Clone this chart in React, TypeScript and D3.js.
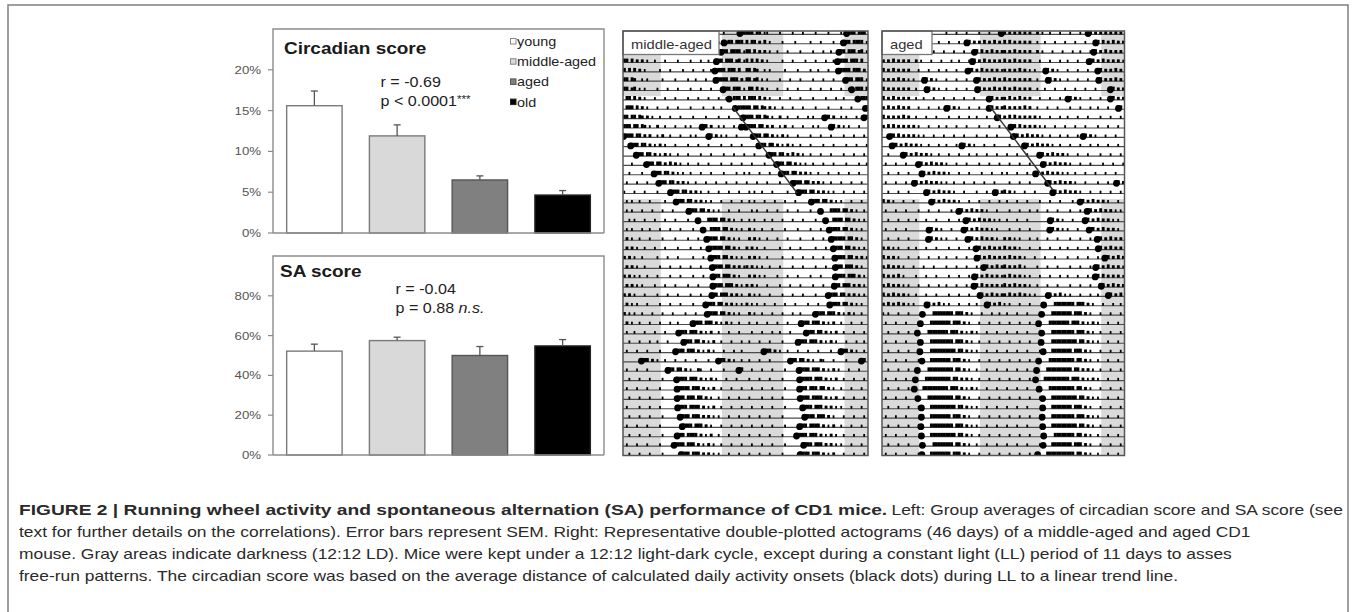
import React, { useLayoutEffect, useRef, useState } from 'react';
import * as d3 from 'd3';

// ---------------- Bar chart data ----------------
const groups = ['young', 'middle-aged', 'aged', 'old'];
const groupFills = ['#ffffff', '#d9d9d9', '#808080', '#000000'];
const groupStrokes = ['#7a7a7a', '#7a7a7a', '#555555', '#222222'];
const circadianMean = [15.6, 11.9, 6.5, 4.65];
const circadianSem = [1.8, 1.35, 0.5, 0.55];
const saMean = [52.2, 57.5, 50.0, 54.8];
const saSem = [3.5, 1.7, 4.5, 3.2];
const circadianTicks = [0, 5, 10, 15, 20];
const saTicks = [0, 20, 40, 60, 80];
const circadianStats = ['r = -0.69', 'p < 0.0001'];
const saStats = ['r = -0.04', 'p = 0.88 '];

// ---------------- Actogram data ----------------
const ldRowBlocks = [[0, 6], [18, 45]];
const darkStart = 19.4;
const darkLength = 12;

const midDots = [
  [22.9], [19.8], [19.2], [18.3], [18.0], [18.2], [19.6], [20.8], [22.0], [23.5],
  [15.5, 23.2], [0.1, 16.8], [1.5], [2.6], [4.6], [6.1], [7.0], [9.3], [10.4], [12.9],
  [14.7], [15.7], [16.4], [16.8], [17.2], [17.5], [17.6], [17.6], [17.4], [16.2],
  [16.5], [13.7], [10.9], [11.9], [10.3], [3.6, 18.7], [8.8, 22.7], [10.5], [10.6], [10.6],
  [10.7], [11.2], [11.6], [10.6], [10.0], [11.4], [10.7],
];
const agedDots = [
  [23.6], [16.8], [18.3], [17.9], [17.0], [8.4, 18.7], [8.9, 18.9], [21.2], [12.8, 21.2], [22.8],
  [], [1.5], [2.0, 15.8], [4.2], [7.2], [7.9], [6.4], [8.8, 22.4], [9.8], [15.2],
  [16.6], [9.3, 16.2], [9.2, 17.0], [18.6], [18.8], [20.1], [18.3], [18.2], [19.4], [8.9, 20.8],
  [8.0], [7.6], [7.0], [7.6], [7.5], [7.9], [7.0], [6.6], [6.4], [7.1],
  [7.8], [7.8], [7.7], [7.8], [8.0], [7.9], [6.8],
];

const midActivity = [
  '000000000000 000000000000 001000100010 000100000333',
  '333033011000 010000100010 000100001000 010323303330',
  '303302030100 001000010000 010001000010 013330333301',
  '330302020100 100010000100 001000100100 333033302301',
  '303030201000 001000100001 000100010010 333303330300',
  '330320010100 000100001000 010010001000 333330333020',
  '330230101000 010001000100 001000100010 001333033301',
  '033030201000 100010001000 010001000100 010010033303',
  '033303020100 010001000100 001000010001 001000010333',
  '330330320201 001000100010 000100001000 010001000003',
  '333033032010 020010001000 101000033020 010100010033',
  '333303302020 010200100010 001010000330 201010001000',
  '000333033020 102010001000 010001000100 001000100010',
  '000003330330 201020100100 010000100010 000100010001',
  '000100000333 033020302010 010001000100 001000100010',
  '001000010001 333033020101 001000100010 000100001001',
  '010001000100 003330330202 010010001000 100010001000',
  '100010001000 010000333303 302020100100 010001000100',
  '010100100010 000010003333 033020201010 001000100010',
  '010100010001 000100010000 033330330201 010001000100',
  '001010001000 100010001000 010001000333 303302010010',
  '010100010010 001000100010 000100100033 330330201010',
  '020100100010 000100001000 010001000333 303302010100',
  '020201001000 100010000100 001000100033 333033020100',
  '202010010000 010001000100 000100010033 330330201010',
  '020201001000 001000100010 001000100003 333033020201',
  '202010100100 010000100010 000100010003 330333020100',
  '020201010000 100010001000 010001000003 333033302010',
  '202010001000 010001000100 001000100033 303330202010',
  '020101000100 001000100010 000100003333 033020201010',
  '201010010001 000100010000 100010000333 303302010100',
  '020100100010 001000100100 000333303330 201020100100',
  '010010001000 100010000333 303330201020 010001000100',
  '001000100010 010001000003 333033020102 001000100010',
  '010001000100 001000003333 033302010201 000100010010',
  '000000033302 010010001000 100010000100 033302010010',
  '010001000100 000003330330 201002100010 000100000330',
  '001000100010 000100000333 303330201020 100010001000',
  '010001000100 001000000333 330333020102 001000100010',
  '001000100010 000100000333 033303302010 010001000100',
  '010000100010 001000000333 303333020102 001000100010',
  '001000100010 000100000033 330333020201 010001000100',
  '010001000100 001000000003 333033302010 001000100010',
  '001000100010 000100000333 033330201020 010001000100',
  '010001000100 001000003333 033302010201 001000100010',
  '001000100010 000100000033 330333020201 010001000100',
  '010001000100 001000000333 303330201020 001000100010',
];
const agedActivity = [
  '000000000000 000000000000 010001000100 001000100023',
  '302020302020 020100100010 001000100330 202030203020',
  '303020202020 010010001000 100010001000 330302030202',
  '202030202020 020100010001 000100100013 302030202020',
  '302030202020 001000100010 010001000033 020302020201',
  '202020302010 100033020100 010001000100 033020203020',
  '302020202020 010003302010 010001000100 033020203020',
  '302030202020 010010001000 100010001000 100000330202',
  '203020302020 001000100010 033020100010 001000330202',
  '302020203020 010001000100 001000100010 010001000330',
  '203030202020 201000100010 010001000100 001000100010',
  '000330302020 201010001000 100010001000 010001000100',
  '000033020302 020100100010 010001033020 100010001000',
  '001000003302 030202010010 001000100010 010001000100',
  '010001000100 003302030202 010001000100 001000100010',
  '001000100010 000330203020 201000100010 000100010001',
  '010001000100 330203020201 010010001000 100010001000',
  '001000100010 000003302030 202010001000 010001003302',
  '302010001000 100000033020 302020100010 001000100010',
  '010001000100 001000100010 000100330203 020201000100',
  '001000100010 010001000100 001000100330 203020201010',
  '010001000100 000000330201 000100003302 030202010100',
  '001000100010 000000330201 010001000033 020302020100',
  '202010100010 010001000100 001000100010 033020302020',
  '302020100010 001000100010 010001000100 033020302020',
  '203020201000 100010001000 010001000100 010033020302',
  '302020301000 010001000100 001000100010 330203020201',
  '203020201010 001000100010 010001000100 330302020201',
  '302030202010 010001000100 001000100010 003302030202',
  '203020302010 100003302030 101000100010 010003302030',
  '101000100010 000100003333 333303330201 000100010010',
  '010001000100 001000033333 333033302010 001000100010',
  '001000100010 000000333333 330333020102 010001000100',
  '010001000100 001000033333 333303330201 001000100010',
  '001000100010 000100033333 333330330201 010001000100',
  '010001000100 001000033333 333033302010 001000100010',
  '001000100010 000000333333 333303302010 010001000100',
  '010001000100 000003333333 333033020201 001000100010',
  '001000100010 000033333333 330333020102 010001000100',
  '010001000100 000000333333 333303302010 001000100010',
  '001000100010 001000033333 333330330201 010001000100',
  '010001000100 000100033333 333033302010 001000100010',
  '001000100010 001000033333 333303330201 010001000100',
  '010001000100 000100033333 333330330201 001000100010',
  '001000100010 000100003333 333303302010 010001000100',
  '010001000100 001000033333 333033302010 001000100010',
  '001000100010 000003333333 333303302010 010001000100',
];
const midTrend = [[7.75, 21.5], [16.95, 34.1]];
const agedTrend = [[7.65, 21.3], [16.6, 33.8]];

const captionBold = 'FIGURE 2 | Running wheel activity and spontaneous alternation (SA) performance of CD1 mice.';
const captionFirstRest = 'Left: Group averages of circadian score and SA score (see';
const captionLines = [
  'text for further details on the correlations). Error bars represent SEM. Right: Representative double-plotted actograms (46 days) of a middle-aged and aged CD1',
  'mouse. Gray areas indicate darkness (12:12 LD). Mice were kept under a 12:12 light-dark cycle, except during a constant light (LL) period of 11 days to asses',
  'free-run patterns. The circadian score was based on the average distance of calculated daily activity onsets (black dots) during LL to a linear trend line.',
];

const FONT = '"Liberation Sans", Arial, Helvetica, sans-serif';
const SX = 1.15;

function T(props: any) {
  const { x, y, anchor = 'start', size, weight = 'normal', fill = '#222', style, children } = props;
  return (
    <text
      transform={`translate(${x},${y}) scale(${SX},1)`}
      textAnchor={anchor}
      fontSize={size}
      fontWeight={weight}
      fill={fill}
      fontFamily={FONT}
      fontStyle={style}
    >
      {children}
    </text>
  );
}

function BarPanel(props: any) {
  const { left, right, top, bottom, yMax, ticks, means, sems, title, titleX, titleY, stats, statsX, statsY, stars, legend } = props;
  const x = d3.scaleBand<string>().domain(groups).range([left, right]).paddingInner(0.33).paddingOuter(0.165);
  const y = d3.scaleLinear().domain([0, yMax]).range([bottom, top]);
  const bw = x.bandwidth();
  return (
    <g>
      <path d={`M${left},${bottom} V${top} H${right} V${bottom}`} fill="none" stroke="#8c8c8c" strokeWidth={1.4} />
      {ticks.map((t: number) => (
        <g key={t}>
          <line x1={left - 5} x2={left} y1={y(t)} y2={y(t)} stroke="#8c8c8c" strokeWidth={1.2} />
          <T x={left - 12} y={y(t) + 4} anchor="end" size={11.5} fill="#555">{`${t}%`}</T>
        </g>
      ))}
      {groups.map((g, i) => {
        const cx = (x(g) as number) + bw / 2;
        const yt = y(means[i]);
        const ye = y(means[i] + sems[i]);
        return (
          <g key={g}>
            <rect x={x(g)} y={yt} width={bw} height={bottom - yt} fill={groupFills[i]} stroke={groupStrokes[i]} strokeWidth={1.4} />
            <line x1={cx} x2={cx} y1={yt} y2={ye} stroke="#555" strokeWidth={1.3} />
            <line x1={cx - 3.5} x2={cx + 3.5} y1={ye} y2={ye} stroke="#555" strokeWidth={1.3} />
          </g>
        );
      })}
      <line x1={left} x2={right} y1={bottom} y2={bottom} stroke="#8c8c8c" strokeWidth={1.4} />
      <T x={titleX} y={titleY} size={16.5} weight="bold" fill="#1a1a1a">{title}</T>
      <T x={statsX} y={statsY} size={14} fill="#222">{stats[0]}</T>
      <T x={statsX} y={statsY + 19} size={14} fill="#222">
        {stats[1]}
        {stars ? <tspan fontSize={10} dy={-3}>{stars}</tspan> : <tspan fontStyle="italic">n.s.</tspan>}
      </T>
      {legend &&
        groups.map((g, i) => {
          const by = 46 + i * 20.2;
          return (
            <g key={g}>
              <rect x={510.5} y={by - 7.5} width={5.5} height={5.5} fill={groupFills[i]} stroke={i < 2 ? '#888' : groupStrokes[i]} strokeWidth={1} />
              <T x={517} y={by} size={12.5} fill="#222">{g}</T>
            </g>
          );
        })}
    </g>
  );
}

function Actogram(props: any) {
  const { x0, x1, label, labelW, dots, activity, trend, id } = props;
  const top = 31;
  const bottom = 455.5;
  const xs = d3.scaleLinear().domain([0, 48]).range([x0, x1]);
  const rs = d3.scaleLinear().domain([0, 45]).range([34.4, 455.5]);
  const rowH = rs(1) - rs(0);
  const binW = xs(0.5) - xs(0);
  const nRows = 46;
  const darkIntervals: number[][] = [];
  for (let k = -1; k <= 2; k++) {
    const s = Math.max(0, darkStart + 24 * k);
    const e = Math.min(48, darkStart + 24 * k + darkLength);
    if (e > s) darkIntervals.push([s, e]);
  }
  const marks: any[] = [];
  const dotEls: any[] = [];
  for (let n = 0; n < nRows; n++) {
    const base = rs(n);
    for (let k = 0; k < 2; k++) {
      const day = n + k;
      const s = (activity[day] || '').replace(/\s/g, '');
      for (let b = 0; b < Math.min(48, s.length); b++) {
        const v = +s[b];
        if (!v) continue;
        const hx = xs(k * 24 + b / 2);
        const h = v === 1 ? 2.8 : v === 2 ? 3.1 : 3.9;
        const w = v === 1 ? 1.8 : binW + 0.3;
        marks.push(<rect key={`${n}-${k}-${b}`} x={v === 1 ? hx + binW / 2 - 0.9 : hx} y={base - h} width={w} height={h} fill="#000" />);
      }
      (dots[day] || []).forEach((h: number, j: number) => {
        dotEls.push(<circle key={`${n}-${k}-${j}`} cx={xs(k * 24 + h)} cy={base - 0.8} r={3.4} fill="#000" />);
      });
    }
  }
  return (
    <g>
      <defs>
        <clipPath id={id}>
          <rect x={x0} y={top} width={x1 - x0} height={bottom - top} />
        </clipPath>
      </defs>
      <g clipPath={`url(#${id})`}>
        {ldRowBlocks.map(([a, b], i) => {
          const yT = Math.max(top, rs(a) - 0.4 * rowH);
          const yB = Math.min(bottom, rs(b) + 0.6 * rowH);
          return darkIntervals.map(([s, e], j) => (
            <rect key={`${i}-${j}`} x={xs(s)} y={yT} width={xs(e) - xs(s)} height={yB - yT} fill="#dadada" />
          ));
        })}
        {d3.range(nRows).map((n) => (
          <line key={n} x1={x0} x2={x1} y1={rs(n)} y2={rs(n)} stroke="#4a4a4a" strokeWidth={1.15} />
        ))}
        {marks}
        {dotEls}
        <line x1={xs(trend[0][1])} y1={rs(trend[0][0])} x2={xs(trend[1][1])} y2={rs(trend[1][0])} stroke="#333" strokeWidth={1.4} />
      </g>
      <rect x={x0} y={top} width={labelW} height={23.5} fill="#fff" stroke="#777" strokeWidth={1.3} />
      <T x={x0 + 8} y={top + 17.5} size={12.8} fill="#333">{label}</T>
      <rect x={x0} y={top} width={x1 - x0} height={bottom - top} fill="none" stroke="#555" strokeWidth={1.5} />
    </g>
  );
}

export default function App() {
  const boldRef = useRef<SVGTextElement>(null);
  const restRef = useRef<SVGTextElement>(null);
  const l3Ref = useRef<SVGTextElement>(null);
  const [sc, setSc] = useState({ b: 1.2, r: 1.15, bw: 707 });
  const capX = 19;
  const capY = [515, 537, 559, 580.5];
  useLayoutEffect(() => {
    if (boldRef.current && restRef.current && l3Ref.current) {
      const bw = boldRef.current.getComputedTextLength();
      const rw = restRef.current.getComputedTextLength();
      const l3 = l3Ref.current.getComputedTextLength();
      if (bw > 0 && rw > 0 && l3 > 0) {
        const r = (1232 - capX) / l3;
        const b = (1343 - capX - 4.5 - r * rw) / bw;
        setSc({ b, r, bw });
      }
    }
  }, []);
  return (
    <svg width={1356} height={612} style={{ position: 'absolute', left: 0, top: 0, background: '#fff' }}>
      <rect x={0} y={0} width={1356} height={612} fill="#fff" />
      <path d="M8,612 V5 H1348 V612" fill="none" stroke="#7f7f7f" strokeWidth={1.5} />

      <BarPanel
        left={273} right={604} top={29} bottom={233} yMax={25}
        ticks={circadianTicks} means={circadianMean} sems={circadianSem}
        title="Circadian score" titleX={284} titleY={54}
        stats={circadianStats} statsX={380.5} statsY={86.5} stars="***"
        legend
      />
      <BarPanel
        left={273} right={604} top={256} bottom={455} yMax={100}
        ticks={saTicks} means={saMean} sems={saSem}
        title="SA score" titleX={280} titleY={277}
        stats={saStats} statsX={395.5} statsY={294}
      />

      <Actogram id="clipMid" x0={623} x1={868} label="middle-aged" labelW={96} dots={midDots} activity={midActivity} trend={midTrend} />
      <Actogram id="clipAged" x0={882} x1={1124.5} label="aged" labelW={50} dots={agedDots} activity={agedActivity} trend={agedTrend} />

      <g fontFamily={FONT} fontSize={15} fill="#2a2a2a">
        <text ref={boldRef} fontWeight="bold" transform={`translate(${capX},${capY[0]}) scale(${sc.b},1)`}>{captionBold}</text>
        <text ref={restRef} transform={`translate(${capX + sc.b * sc.bw + 4.5},${capY[0]}) scale(${sc.r},1)`}>{captionFirstRest}</text>
        {captionLines.map((l, i) => (
          <text key={i} ref={i === 1 ? l3Ref : undefined} transform={`translate(${capX},${capY[i + 1]}) scale(${sc.r},1)`}>{l}</text>
        ))}
      </g>
    </svg>
  );
}
